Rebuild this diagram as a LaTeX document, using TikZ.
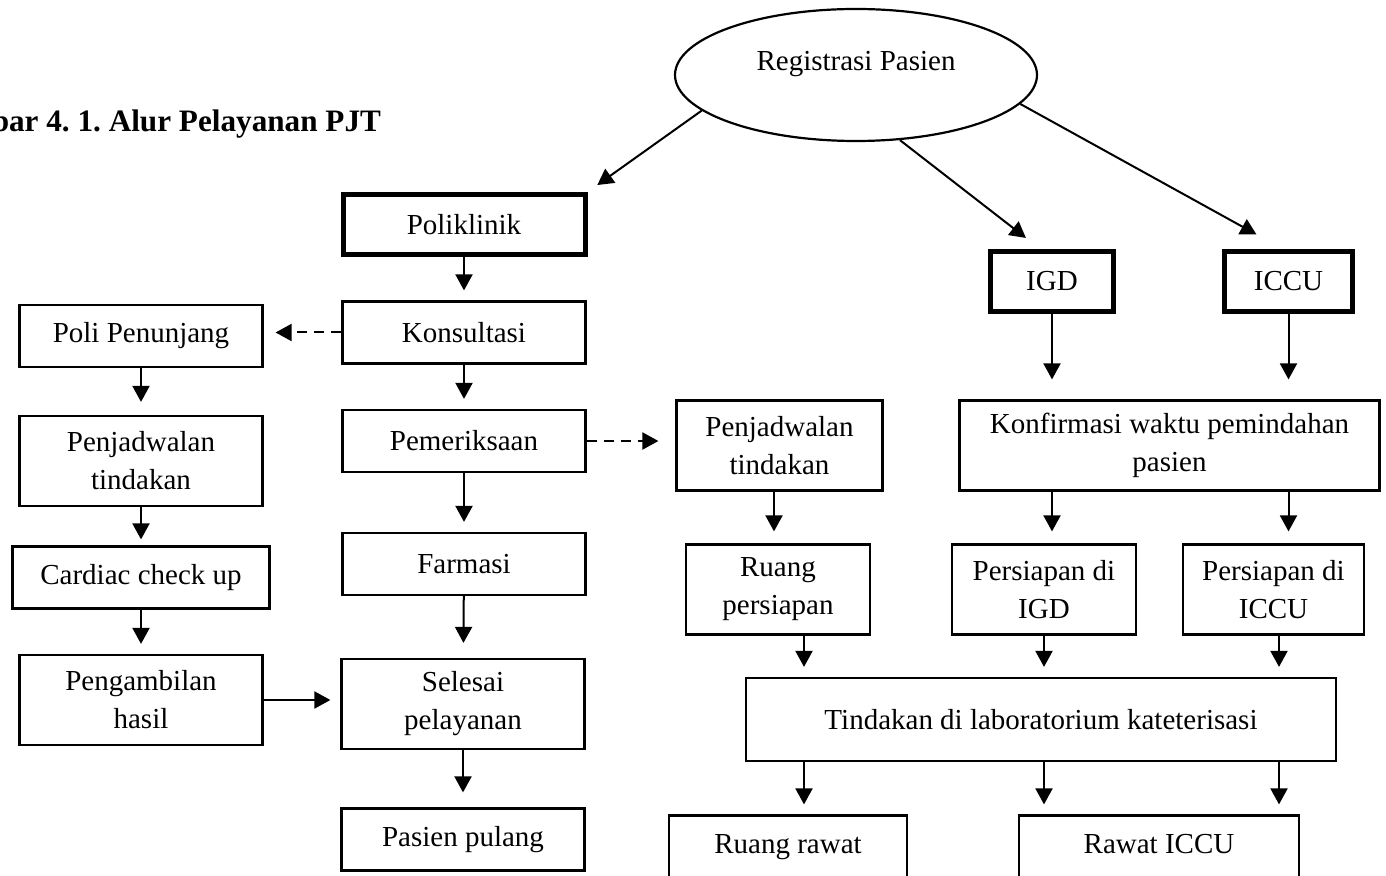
\documentclass[tikz,border=0pt]{standalone}
\usepackage{fontspec}
\setmainfont{Liberation Serif}
\usetikzlibrary{arrows.meta, shapes.geometric}
\newcommand{\bodyfont}{\fontsize{14.5pt}{19pt}\selectfont}
\frenchspacing

\begin{document}
\begin{tikzpicture}[x=0.5pt, y=-0.5pt,
  box/.style={draw, line width=1.1pt, minimum width=121.5pt, minimum height=31pt, inner sep=0pt, align=center, font=\bodyfont},
  tallbox/.style={box, minimum height=45pt},
  unitbox/.style={box, line width=2.5pt, minimum height=30pt},
  oneline/.style={text height=10pt, text depth=3pt},
  arrow/.style={-{Triangle[length=8pt, width=8.5pt]}, line width=1pt, shorten >=5pt},
  dasharrow/.style={arrow, dash pattern=on 5pt off 3.5pt}
]
  \useasboundingbox (0,0) rectangle (1386,876);
  \clip (0,0) rectangle (1386,876);

  \node[anchor=base east, font=\fontsize{15.6pt}{19pt}\selectfont\bfseries] (judul) at (388,132) {Gambar 4. 1. Alur Pelayanan PJT};

  \node[draw, ellipse, line width=1.1pt, minimum width=181pt, minimum height=66pt, inner sep=0pt, font=\bodyfont, text height=10pt, text depth=14pt] (reg) at (856,75) {Registrasi Pasien};

  % poliklinik
  \node[unitbox, minimum width=121pt] (poli) at (464,224.5) {Poliklinik};
  \node[box] (kons) at (464,332.5) {Konsultasi};
  \node[box] (periksa) at (464,441) {Pemeriksaan};
  \node[box] (farmasi) at (464,564) {Farmasi};
  \node[tallbox] (selesai) at (463,704) {Selesai\\pelayanan};
  \node[box] (pulang) at (463,839.5) {Pasien pulang};

  \node[box] (penunjang) at (141,336) {Poli Penunjang};
  \node[tallbox] (jadwala) at (141,461) {Penjadwalan\\tindakan};
  \node[box, minimum width=128.5pt] (cardiac) at (141,577.5) {Cardiac check up};
  \node[tallbox] (ambil) at (141,700) {Pengambilan\\hasil};

  % IGD / ICCU
  \node[unitbox, minimum width=61.5pt] (igd) at (1052,281.5) {IGD};
  \node[unitbox, minimum width=64pt] (iccu) at (1288.5,281.5) {ICCU};
  \node[tallbox, minimum width=103pt, minimum height=45pt] (jadwalb) at (779.5,445.5) {Penjadwalan\\tindakan};
  \node[tallbox, minimum width=210pt, minimum height=45pt] (konf) at (1169.5,445.5) {Konfirmasi waktu pemindahan\\pasien};
  \node[tallbox, minimum width=92pt] (ruangp) at (778,589.5) {Ruang\\persiapan};
  \node[tallbox, minimum width=92pt] (pigd) at (1044,589.5) {Persiapan di\\IGD};
  \node[tallbox, minimum width=90.5pt] (piccu) at (1273.5,589.5) {Persiapan di\\ICCU};
  \node[box, minimum width=295pt, minimum height=41.5pt] (tindakan) at (1041,719.5) {Tindakan di laboratorium kateterisasi};
  \node[box, oneline, minimum width=119pt] (rawat) at (788,846.5) {Ruang rawat};
  \node[box, oneline, minimum width=140pt] (rawaticcu) at (1159,846.5) {Rawat ICCU};

  \draw[arrow, shorten >=6pt] (reg.193) -- (poli.north east);
  \draw[arrow, shorten >=9pt] (reg.304) -- (igd.110);
  \draw[arrow, shorten >=15pt] (reg.350) -- (iccu.100);

  \draw[arrow] (poli) -- (kons);
  \draw[arrow] (kons) -- (periksa);
  \draw[arrow] (periksa) -- (farmasi);
  \draw[arrow, shorten >=7.5pt] (farmasi) -- (selesai);
  \draw[arrow, shorten >=7.5pt] (selesai) -- (pulang);
  \draw[dasharrow, shorten >=6pt] (kons.west) -- (penunjang.east |- kons.west);
  \draw[dasharrow, shorten >=8.5pt] (periksa.east) -- (jadwalb.west |- periksa.east);

  \draw[arrow, shorten >=6.5pt] (penunjang) -- (jadwala);
  \draw[arrow, shorten >=3pt] (jadwala) -- (cardiac);
  \draw[arrow] (cardiac) -- (ambil);
  \draw[arrow] (ambil.east) -- (selesai.west |- ambil.east);

  \draw[arrow, shorten >=10pt] (igd) -- (konf.north -| igd);
  \draw[arrow, shorten >=10pt] (iccu) -- (konf.north -| iccu);
  \draw[arrow, shorten >=6pt] (konf.south -| igd) -- (pigd.north -| igd);
  \draw[arrow, shorten >=6pt] (konf.south -| iccu) -- (piccu.north -| iccu);
  \draw[arrow, shorten >=6pt] (jadwalb.south -| 774,0) -- (ruangp.north -| 774,0);

  \draw[arrow] (ruangp.south -| 804,0) -- (tindakan.north -| 804,0);
  \draw[arrow] (pigd) -- (tindakan.north -| pigd);
  \draw[arrow] (piccu.south -| 1279,0) -- (tindakan.north -| 1279,0);
  \draw[arrow] (tindakan.south -| 804,0) -- (rawat.north -| 804,0);
  \draw[arrow] (tindakan.south -| pigd) -- (rawaticcu.north -| pigd);
  \draw[arrow] (tindakan.south -| 1279,0) -- (rawaticcu.north -| 1279,0);
\end{tikzpicture}
\end{document}
